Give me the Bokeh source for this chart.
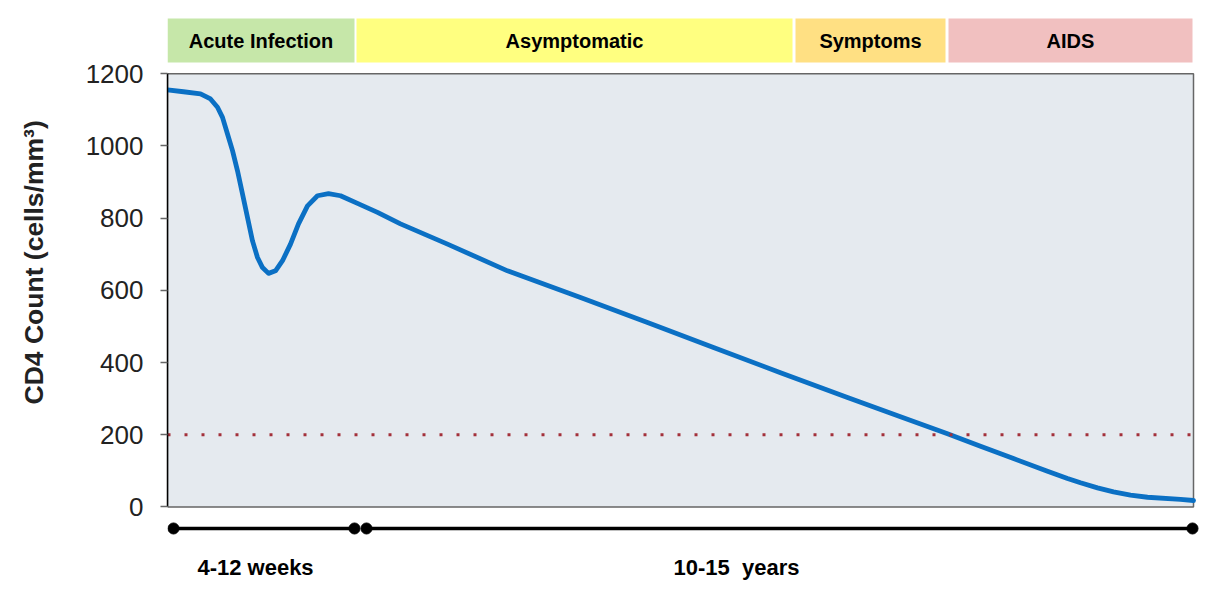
import math
from bokeh.plotting import figure
from bokeh.layouts import row
from bokeh.models import Range1d, FixedTicker
from bokeh.core.properties import value
from bokeh.embed import file_html
from bokeh.resources import INLINE

# ---- data (time in arbitrary schematic units, CD4 in cells/mm3) ----
time_x = [0, 16, 33, 43, 50, 55, 60, 65, 70, 75, 80, 85, 90, 95, 101, 108, 115,
          123, 131, 140, 150, 161, 173, 190, 210, 233, 280, 340, 413, 480, 546,
          613, 680, 733, 780, 813, 846, 880, 900, 913, 930, 946, 963, 980, 1013, 1026]
cd4 = [1155, 1150, 1144, 1130, 1107, 1079, 1033, 987, 931, 867, 802, 737, 691,
       663, 647, 654, 682, 728, 784, 834, 862, 868, 862, 841, 816, 784, 728, 654,
       580, 511, 442, 372, 303, 250, 203, 168, 134, 99, 79, 67, 53, 42, 33, 27, 21, 18]

phase_names = ["Acute Infection", "Asymptomatic", "Symptoms", "AIDS"]
phase_start = [0, 189, 628, 781]
phase_end = [187, 625, 778, 1025]
phase_colors = ["#c6e7a9", "#ffff80", "#ffe083", "#f1c0c0"]

threshold = 200
y_ticks = [0, 200, 400, 600, 800, 1000, 1200]
y_title = "CD4 Count (cells/mm³)"

tl_start = [6, 199]
tl_end = [187, 1025]
tl_labels = ["4-12 weeks", "10-15\u00a0 years"]
tl_label_x = [88, 569]

FONT = "Liberation Sans"

# layout positions (in data units of the y axis)
BAR_BOTTOM, BAR_TOP = 1231.0, 1352.8
TL_LINE_Y = -59.5
TL_TEXT_Y = -167.5

# ---- narrow strip holding the y-axis title ----
lab = figure(width=60, height=600, title=None,
             x_range=Range1d(0, 60), y_range=Range1d(600, 0),
             output_backend="svg", toolbar_location=None,
             x_axis_location=None, y_axis_location=None,
             min_border_left=0, min_border_right=0, min_border_top=0, min_border_bottom=0,
             background_fill_color="white", border_fill_color="white",
             outline_line_color=None)
lab.grid.visible = False
lab.text(x=[33], y=[257], text=[y_title], angle=math.pi / 2,
         text_align="center", text_baseline="middle", text_font=value(FONT),
         text_font_style="bold", text_font_size="26.5px", text_color="#222222")

# ---- main chart ----
p = figure(width=1145, height=600, title=None,
           x_range=Range1d(0, 1033), y_range=Range1d(-253.4, 1375.0),
           output_backend="svg", toolbar_location=None, x_axis_location=None,
           min_border_left=107, min_border_right=5, min_border_top=10, min_border_bottom=2,
           background_fill_color="white", border_fill_color="white",
           outline_line_color=None)
p.grid.visible = False

# plot area
p.quad(left=time_x[0], right=time_x[-1], bottom=y_ticks[0], top=y_ticks[-1],
       fill_color="#e5eaef", line_color="#666666", line_width=1.5)

# CD4 curve
p.line(time_x, cd4, line_color="#0b70c4", line_width=4.8,
       line_join="round", line_cap="round")

# AIDS threshold
p.line([time_x[0], time_x[-1]], [threshold, threshold], line_color="#a3303a",
       line_width=3, line_dash="3 14", line_cap="butt")

# phase bars
p.quad(left=phase_start, right=phase_end, bottom=BAR_BOTTOM, top=BAR_TOP,
       fill_color=phase_colors, line_color=None)
centers = [(a + b) / 2 for a, b in zip(phase_start, phase_end)]
p.text(x=centers, y=[(BAR_BOTTOM + BAR_TOP) / 2] * len(centers), text=phase_names,
       text_align="center", text_baseline="middle", text_font=value(FONT),
       text_font_style="bold", text_font_size="20px", text_color="black")

# timeline
p.segment(x0=tl_start, y0=[TL_LINE_Y] * 2, x1=tl_end, y1=[TL_LINE_Y] * 2,
          line_width=3.5, line_color="black")
p.scatter(x=tl_start + tl_end, y=[TL_LINE_Y] * 4, size=11, color="black")
p.text(x=tl_label_x, y=[TL_TEXT_Y] * 2, text=tl_labels, text_align="center",
       text_baseline="middle", text_font=value(FONT), text_font_style="bold",
       text_font_size="22px", text_color="black")

# y axis
ax = p.yaxis[0]
ax.ticker = FixedTicker(ticks=y_ticks)
ax.bounds = (y_ticks[0], y_ticks[-1])
ax.axis_line_color = "black"
ax.axis_line_width = 1.5
ax.major_tick_line_color = "#666666"
ax.major_tick_line_width = 1.5
ax.major_tick_out = 7
ax.major_tick_in = 0
ax.minor_tick_out = 0
ax.minor_tick_in = 0
ax.major_label_text_font = FONT
ax.major_label_text_font_size = "26px"
ax.major_label_text_color = "#222222"
ax.major_label_standoff = 17

layout = row(lab, p)
open("out.html", "w").write(file_html(layout, INLINE))
